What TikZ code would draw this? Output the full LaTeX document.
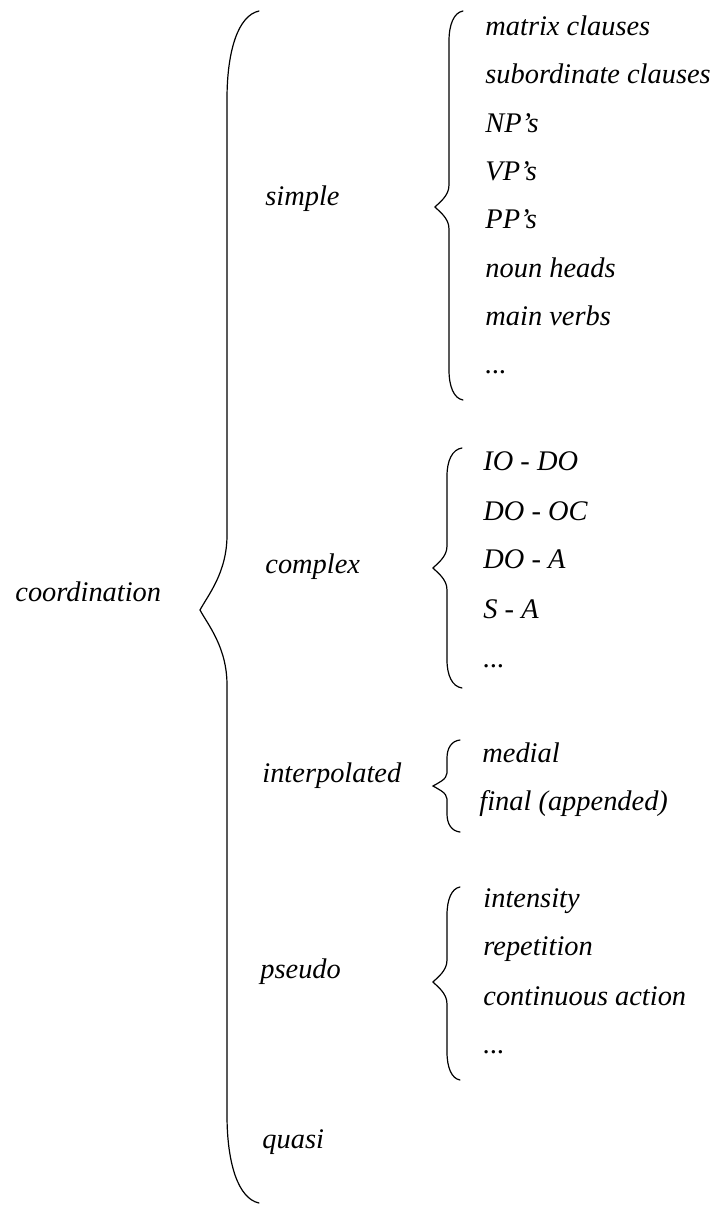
\documentclass[tikz,border=0pt]{standalone}
\usepackage{fontspec}
\setmainfont{Liberation Serif}
% curly brace: x, top y, tip y, bottom y, hook dx, hook dy, tip dx, tip dy
\newcommand{\curly}[8]{%
    \draw[brace line] (#1+#5,#2) .. controls (#1+0.35*#5,#2+0.05*#6) and (#1,#2+0.45*#6) .. (#1,#2+#6)
        -- (#1,#3-#8) .. controls (#1,#3-0.5*#8) and (#1-0.7*#7,#3-0.2*#8) .. (#1-#7,#3)
        .. controls (#1-0.7*#7,#3+0.2*#8) and (#1,#3+0.5*#8) .. (#1,#3+#8)
        -- (#1,#4-#6) .. controls (#1,#4-0.45*#6) and (#1+0.35*#5,#4-0.05*#6) .. (#1+#5,#4);
}
\begin{document}
\begin{tikzpicture}[
        x=0.5pt, y=-0.5pt,
        every node/.style={anchor=base west, inner sep=0pt, font=\itshape\fontsize{14.2}{17}\selectfont},
        brace line/.style={line width=0.6pt, line cap=round}
    ]
    \useasboundingbox (0,0) rectangle (717,1205);

    % main level
    \node (coord) at (15,601) {coordination};
    \curly{227}{11}{610}{1203}{32}{88}{27}{75}

    \node (simple) at (265,205) {simple};
    \node (complex) at (265,573) {complex};
    \node (interp) at (262,782) {interpolated};
    \node (pseudo) at (260,978) {pseudo};
    \node (quasi) at (262,1148) {quasi};

    % simple
    \curly{449}{11}{207}{400}{14}{30}{14}{22}
    \node (mc) at (485,35) {matrix clauses};
    \node (sc) at (485,83) {subordinate clauses};
    \node (np) at (485,132) {NP’s};
    \node (vp) at (485,180) {VP’s};
    \node (pp) at (485,228) {PP’s};
    \node (nh) at (485,277) {noun heads};
    \node (mv) at (485,325) {main verbs};
    \node (sdots) at (485,373) {...};

    % complex
    \curly{447}{448}{568}{688}{15}{28}{14}{22}
    \node (iodo) at (483,470) {IO - DO};
    \node (dooc) at (483,520) {DO - OC};
    \node (doa) at (483,568) {DO - A};
    \node (sa) at (483,618) {S - A};
    \node (cdots) at (483,667) {...};

    % interpolated
    \curly{447}{740}{786}{832}{13}{18}{14}{13}
    \node (med) at (482,762) {medial};
    \node (fin) at (479,810) {final (appended)};

    % pseudo
    \curly{447}{887}{982}{1080}{13}{28}{14}{22}
    \node (inten) at (483,907) {intensity};
    \node (rep) at (483,955) {repetition};
    \node (cont) at (483,1005) {continuous action};
    \node (pdots) at (483,1053) {...};
\end{tikzpicture}
\end{document}
